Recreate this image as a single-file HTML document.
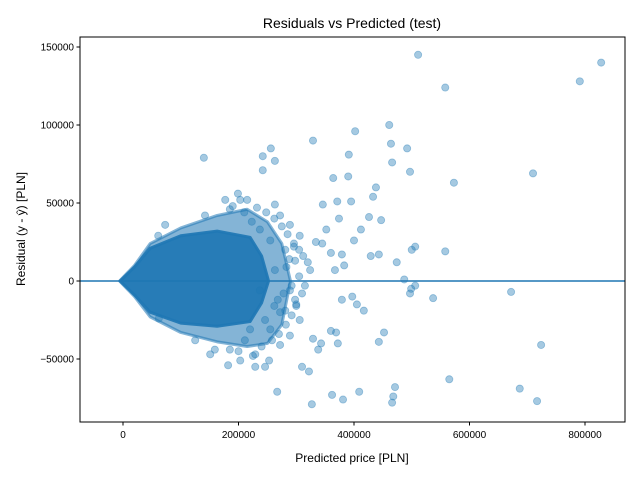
<!DOCTYPE html>
<html><head><meta charset="utf-8"><style>
body{margin:0;background:#fff}
svg text{font-family:"Liberation Sans","DejaVu Sans",sans-serif;fill:#000}
</style></head><body>
<svg id="chart" width="640" height="480">
<rect width="640" height="480" fill="#fff"/>
<text x="352" y="28" font-size="14" text-anchor="middle">Residuals vs Predicted (test)</text>
<g id="core"></g>
<g id="pts"></g>
<line id="zero" stroke="#1f77b4" stroke-width="1.6"/>
<rect x="80" y="37" width="545" height="385" fill="none" stroke="#000" stroke-width="1"/>
<g id="xt"></g>
<g id="yt"></g>
<text x="352" y="462" font-size="12" text-anchor="middle">Predicted price [PLN]</text>
<text transform="translate(25,229) rotate(-90)" font-size="12" text-anchor="middle">Residual (y - ŷ) [PLN]</text>
</svg>
<script>
// values in thousands of PLN
const predK=[511,558,791,828,461,329,402,464,492,391,466,497,573,710,390,364,438,433,395,371,346,426,447,374,412,352,558,506,500,443,429,474,487,506,499,497,537,672,724,565,687,717,471,468,466,409,362,381,327,322,310,452,443,417,405,397,379,372,369,360,343,338,329,383,367,379,360,400,345,334,140,242,256,263,242,267,229,246,253,62,73,61,199,203,185,210,223,237,255,272,289,281,298,306,263,185,211,229,255,272,289,306,281,246,220,203,182,159,289,315,324,298,237,263,177,142,125,151,
  190,215,232,248,262,275,285,296,305,312,200,225,240,258,270,282,292,300,268,278,288,296,305,262,272,283,292,300,310,320];
const residK=[145,124,128,140,100,90,96,88,85,81,76,70,63,69,67,66,60,54,51,51,49,41,39,40,33,33,19,22,20,17,16,12,1,-3,-5,-8,-11,-7,-41,-63,-69,-77,-68,-74,-78,-71,-73,-76,-79,-58,-55,-33,-39,-19,-15,-10,-12,-40,-33,-32,-40,-44,-37,10,7,17,18,26,24,25,79,71,85,77,80,-71,-55,-55,-51,-24,36,29,56,52,46,44,38,33,26,42,36,20,13,29,7,-44,-38,-47,-31,-41,-35,-25,-19,-25,-31,-51,-54,-44,-6,-3,7,-12,-6,49,52,42,-38,-47,
  48,52,47,44,40,35,30,24,20,16,-45,-48,-42,-38,-34,-28,-22,-16,-12,-8,14,22,3,-16,-20,9,-3,-15,-8,12];
const coreX=[-5,20,47,100,163,220,240,252];
const coreUpper=[0,9,21,29,32,28,16,0];
const coreLower=[0,-9,-20,-27,-29,-26,-14,0];
const haloX=[-6,20,47,100,163,215,250,275,290];
const haloUpper=[0,10,24,34,42,46,38,24,0];
const haloLower=[0,-10,-23,-33,-39,-42,-40,-28,0];
const xTicks=[0,200000,400000,600000,800000];
const yTicks=[-50000,0,50000,100000,150000];
const NS='http://www.w3.org/2000/svg';
const sx=v=>123+v*0.5775; // v in thousands
const sy=v=>281-v*1.56;
function mk(tag,attrs,parent){const e=document.createElementNS(NS,tag);for(const k in attrs)e.setAttribute(k,attrs[k]);parent.appendChild(e);return e;}
const core=document.getElementById('core');
function poly(xs,up,lo,op,name){
  let pts=xs.map((x,i)=>sx(x)+','+sy(up[i]));
  for(let i=xs.length-1;i>=0;i--)pts.push(sx(xs[i])+','+sy(lo[i]));
  const p=mk('polygon',{points:pts.join(' '),fill:'#1f77b4','fill-opacity':op,stroke:'#1f77b4','stroke-opacity':op,'stroke-width':3,'stroke-linejoin':'round'},core);
  
  
}
poly(haloX,haloUpper,haloLower,0.55,'point-cloud-halo');
poly(coreX,coreUpper,coreLower,0.92,'point-cloud-core');
const g=document.getElementById('pts');
predK.forEach((x,i)=>{
  const c=mk('circle',{cx:sx(x),cy:sy(residK[i]),r:3.6,fill:'#1f77b4','fill-opacity':0.4,stroke:'#1f77b4','stroke-opacity':0.4,'stroke-width':0.8},g);
  
  
});
const z=document.getElementById('zero');
z.setAttribute('x1',80);z.setAttribute('x2',625);z.setAttribute('y1',sy(0));z.setAttribute('y2',sy(0));
const xt=document.getElementById('xt');
xTicks.forEach(t=>{
  const x=sx(t/1000);
  mk('line',{x1:x,x2:x,y1:422,y2:425.5,stroke:'#000'},xt);
  const tx=mk('text',{x:x,y:438,'font-size':10,'text-anchor':'middle'},xt);
  tx.textContent=String(t);
  
  
});
const yt=document.getElementById('yt');
yTicks.forEach(t=>{
  const y=sy(t/1000);
  mk('line',{x1:76.5,x2:80,y1:y,y2:y,stroke:'#000'},yt);
  const tx=mk('text',{x:74,y:y+3.6,'font-size':10,'text-anchor':'end'},yt);
  tx.textContent=t<0?'\u2212'+(-t):String(t);
  
  
});
</script>
</body></html>
